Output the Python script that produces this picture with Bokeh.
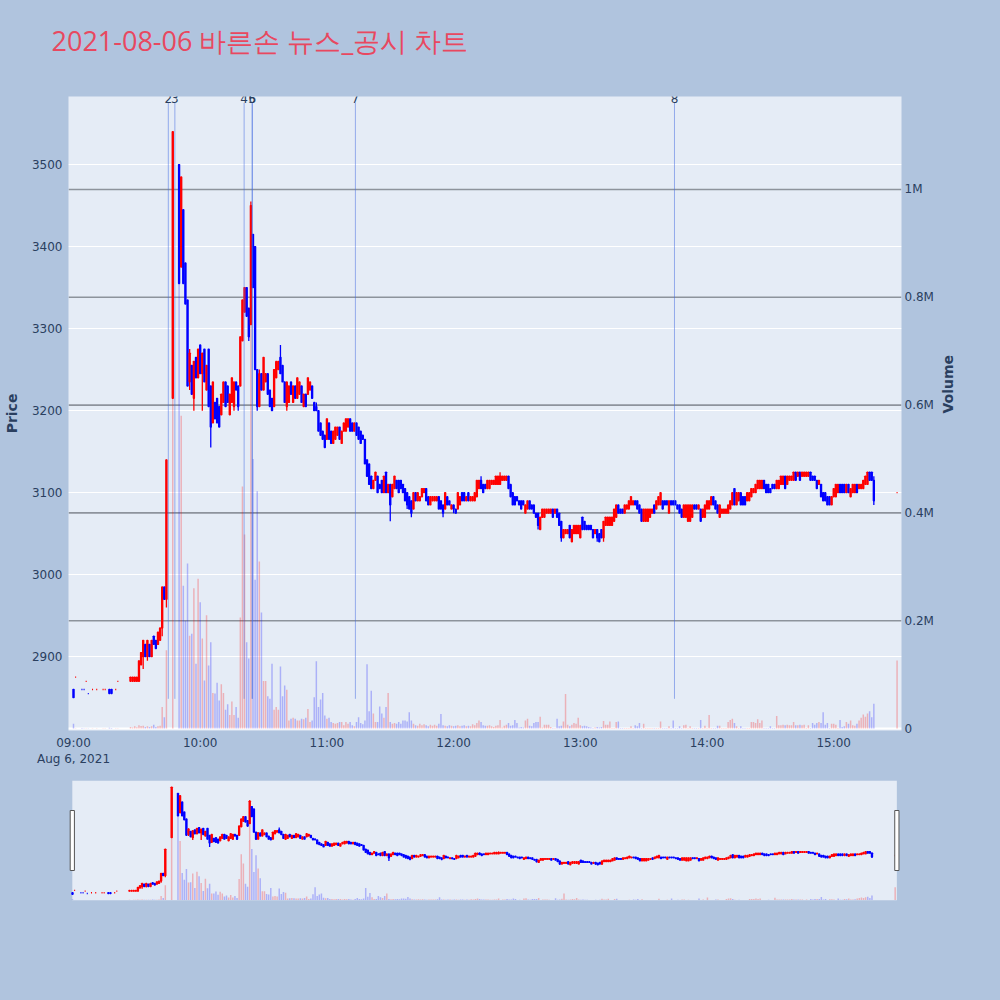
import math
from bokeh.plotting import figure
from bokeh.models import ColumnDataSource, Range1d, LinearAxis, FixedTicker, Label, Span, Title
from bokeh.layouts import column
from bokeh.embed import file_html
from bokeh.resources import INLINE

# ---------------- data (minutes after 09:00) ----------------
minute = ([0, 1, 4, 5, 6, 7, 9, 11, 14, 15, 17, 18, 20, 21]
          + list(range(27, 45)) + [47] + list(range(50, 380)) + [390])

opens = [
    2860, 2875, 2860, 2860, 2870, 2855, 2860, 2860, 2860, 2860, 2860, 2860, 2860, 2870,
    2870, 2870, 2870, 2870, 2870, 2890, 2900, 2915, 2900, 2915, 2900, 2925, 2920, 2915, 2920, 2935, 2985, 2970,
    3215,
    3500, 3375, 3445, 3380, 3335, 3235, 3255, 3215, 3265, 3240,
    3280, 3245, 3275, 3225, 3275, 3230, 3185, 3210, 3215, 3205,
    3195, 3210, 3235, 3230, 3195, 3210, 3205, 3235, 3230, 3230,
    3285, 3320, 3350, 3325, 3305, 3415, 3400, 3250, 3205, 3245,
    3225, 3235, 3245, 3225, 3215, 3205, 3240, 3250, 3265, 3255,
    3235, 3205, 3210, 3235, 3210, 3230, 3215, 3220, 3230, 3205,
    3220, 3220, 3225, 3230, 3210, 3205, 3200, 3185, 3175, 3170,
    3165, 3185, 3175, 3160, 3165, 3170, 3180, 3160, 3175, 3175,
    3180, 3190, 3185, 3175, 3185, 3180, 3175, 3170, 3165, 3140,
    3135, 3120, 3105, 3115, 3120, 3110, 3115, 3100, 3125, 3100,
    3110, 3095, 3105, 3115, 3115, 3115, 3110, 3105, 3100, 3095,
    3090, 3080, 3100, 3090, 3090, 3095, 3100, 3105, 3095, 3085,
    3090, 3090, 3090, 3095, 3090, 3085, 3080, 3095, 3090, 3080,
    3085, 3080, 3080, 3085, 3100, 3100, 3090, 3100, 3090, 3090,
    3090, 3095, 3105, 3115, 3110, 3110, 3105, 3105, 3110, 3110,
    3110, 3110, 3110, 3115, 3115, 3115, 3120, 3110, 3100, 3095,
    3095, 3090, 3090, 3090, 3075, 3080, 3090, 3085, 3085, 3075,
    3075, 3055, 3070, 3070, 3075, 3075, 3075, 3080, 3075, 3080,
    3075, 3065, 3045, 3050, 3050, 3060, 3040, 3050, 3050, 3050,
    3045, 3070, 3065, 3060, 3060, 3060, 3055, 3050, 3055, 3050,
    3055, 3045, 3060, 3060, 3060, 3060, 3065, 3070, 3085, 3080,
    3080, 3075, 3080, 3080, 3085, 3085, 3090, 3090, 3085, 3080,
    3065, 3065, 3065, 3070, 3075, 3085, 3080, 3085, 3085, 3090,
    3090, 3090, 3075, 3090, 3090, 3090, 3085, 3085, 3080, 3070,
    3070, 3065, 3065, 3070, 3085, 3085, 3080, 3080, 3070, 3070,
    3080, 3080, 3085, 3095, 3090, 3085, 3070, 3075, 3075, 3075,
    3075, 3080, 3085, 3105, 3085, 3090, 3100, 3095, 3095, 3090,
    3090, 3095, 3100, 3100, 3105, 3105, 3105, 3115, 3110, 3110,
    3105, 3110, 3110, 3105, 3105, 3110, 3110, 3120, 3110, 3115,
    3115, 3115, 3125, 3120, 3125, 3120, 3120, 3120, 3120, 3125,
    3120, 3120, 3115, 3110, 3110, 3100, 3100, 3095, 3095, 3085,
    3095, 3095, 3100, 3110, 3110, 3110, 3100, 3110, 3095, 3100,
    3100, 3110, 3105, 3105, 3105, 3110, 3110, 3125, 3125, 3115,
    3100,
]

closes = [
    2850, 2875, 2860, 2860, 2870, 2855, 2860, 2860, 2860, 2860, 2855, 2855, 2860, 2870,
    2875, 2875, 2875, 2875, 2895, 2905, 2920, 2900, 2920, 2900, 2920, 2915, 2910, 2930, 2935, 2985, 2970, 3140,
    3540,
    3355, 3485, 3355, 3330, 3230, 3270, 3220, 3260, 3240, 3275,
    3245, 3270, 3235, 3255, 3205, 3180, 3235, 3190, 3185, 3180,
    3220, 3235, 3205, 3210, 3220, 3240, 3235, 3225, 3205, 3290,
    3335, 3350, 3315, 3290, 3450, 3350, 3250, 3205, 3245, 3225,
    3265, 3245, 3220, 3205, 3200, 3250, 3260, 3260, 3245, 3235,
    3210, 3235, 3230, 3220, 3230, 3215, 3240, 3235, 3210, 3220,
    3205, 3240, 3235, 3215, 3200, 3200, 3175, 3170, 3165, 3155,
    3190, 3165, 3160, 3175, 3180, 3180, 3165, 3175, 3185, 3190,
    3190, 3175, 3175, 3185, 3170, 3165, 3160, 3165, 3135, 3120,
    3110, 3105, 3115, 3125, 3100, 3105, 3100, 3120, 3100, 3110,
    3085, 3110, 3120, 3105, 3100, 3105, 3100, 3090, 3085, 3080,
    3075, 3100, 3090, 3100, 3095, 3105, 3105, 3090, 3085, 3095,
    3095, 3095, 3095, 3080, 3080, 3075, 3100, 3085, 3085, 3085,
    3080, 3075, 3100, 3095, 3090, 3090, 3095, 3090, 3095, 3095,
    3100, 3115, 3115, 3105, 3100, 3105, 3115, 3115, 3115, 3115,
    3120, 3120, 3120, 3120, 3120, 3120, 3105, 3095, 3085, 3085,
    3090, 3085, 3080, 3085, 3085, 3090, 3080, 3080, 3075, 3070,
    3060, 3070, 3080, 3080, 3080, 3080, 3080, 3070, 3080, 3070,
    3060, 3045, 3055, 3055, 3055, 3045, 3055, 3060, 3060, 3060,
    3060, 3055, 3055, 3055, 3055, 3055, 3045, 3055, 3045, 3040,
    3045, 3065, 3070, 3070, 3070, 3070, 3080, 3085, 3075, 3075,
    3075, 3085, 3085, 3090, 3095, 3090, 3085, 3080, 3075, 3065,
    3080, 3080, 3080, 3080, 3080, 3075, 3090, 3095, 3100, 3080,
    3085, 3085, 3090, 3085, 3085, 3085, 3080, 3075, 3070, 3085,
    3085, 3085, 3085, 3085, 3080, 3080, 3085, 3065, 3080, 3085,
    3090, 3090, 3095, 3085, 3080, 3075, 3085, 3080, 3080, 3080,
    3085, 3090, 3100, 3085, 3100, 3100, 3085, 3085, 3085, 3100,
    3100, 3105, 3105, 3110, 3115, 3115, 3115, 3105, 3100, 3100,
    3100, 3105, 3105, 3115, 3115, 3120, 3120, 3105, 3120, 3120,
    3120, 3125, 3115, 3125, 3115, 3125, 3125, 3125, 3125, 3115,
    3115, 3115, 3105, 3115, 3095, 3090, 3090, 3085, 3085, 3095,
    3105, 3110, 3110, 3100, 3100, 3100, 3110, 3100, 3105, 3110,
    3110, 3100, 3110, 3110, 3115, 3120, 3125, 3115, 3115, 3090,
    3100,
]

wick_high = {47: 3540, 55: 3275, 84: 3455, 88: 3250, 98: 3280, 115: 3210,
             193: 3120, 202: 3125, 379: 3120}
wick_low = {33: 2885, 35: 2895, 42: 2925, 44: 2960, 55: 3225, 57: 3200, 61: 3200,
            65: 3155, 76: 3200, 78: 3200, 83: 3285, 87: 3200, 101: 3200, 150: 3065,
            158: 3080, 160: 3070, 175: 3070, 180: 3075, 220: 3055, 231: 3040,
            248: 3040, 251: 3040, 379: 3085}

volumes = [
    9000, 600, 900, 400, 500, 700, 300, 400, 600, 400, 1500, 1000, 400, 600,
    3000, 2000, 4000, 2500, 6000, 4500, 5000, 3000, 4000, 3000, 4000, 7000, 3000, 4000, 5000, 40000, 21000, 145000,
    1000000,
    850000, 580000, 265000, 200000, 306000, 172000, 176000, 260000, 120000, 278000,
    234000, 167000, 89000, 210000, 117000, 160000, 66000, 65000, 85000, 52000,
    82000, 66000, 35000, 45000, 25000, 50000, 25000, 40000, 20000, 206000,
    449000, 360000, 160000, 130000, 800000, 500000, 276000, 440000, 310000, 215000,
    88000, 88000, 60000, 55000, 120000, 35000, 40000, 35000, 115000, 60000,
    80000, 72000, 15000, 18000, 20000, 18000, 15000, 15000, 18000, 17000,
    20000, 36000, 12000, 15000, 58000, 125000, 40000, 54000, 66000, 24000,
    18000, 20000, 12000, 10000, 9000, 10000, 12000, 12000, 6000, 12000,
    9000, 12000, 6000, 4000, 12000, 21000, 10000, 8000, 15000, 119000,
    32000, 70000, 28000, 12000, 12000, 41000, 28000, 20000, 40000, 66000,
    12000, 9000, 10000, 9000, 12000, 9000, 15000, 15000, 13000, 30000,
    15000, 9000, 6000, 5000, 9000, 6000, 8000, 6000, 4000, 7000,
    5000, 7000, 5000, 9000, 27000, 6000, 5000, 4000, 6000, 5000,
    4000, 5000, 6000, 4000, 5000, 6000, 4000, 5000, 4000, 8000,
    6000, 10000, 15000, 12000, 6000, 5000, 5000, 6000, 4000, 3000,
    5000, 6000, 16000, 2000, 5000, 7000, 10000, 5000, 6000, 16000,
    10000, 2000, 3000, 2000, 15000, 18000, 5000, 4000, 10000, 12000,
    12000, 22000, 2000, 7000, 7000, 7000, 3000, 1000, 1000, 18000,
    4000, 5000, 13000, 64000, 7000, 4000, 7000, 10000, 9000, 20000,
    6000, 4000, 5000, 4000, 3000, 2000, 1000, 2000, 3000, 2000,
    3000, 14000, 7000, 7000, 13000, 1000, 1000, 12000, 13000, 1000,
    1000, 1000, 1000, 1000, 4000, 1000, 6000, 4000, 10000, 1000,
    9000, 1000, 1000, 1000, 1000, 1000, 1000, 1000, 13000, 1000,
    1000, 1000, 4000, 1000, 15000, 1000, 1000, 4000, 1000, 6000,
    7000, 1000, 4000, 1000, 1000, 1000, 1000, 16000, 1000, 5000,
    1000, 25000, 1000, 1000, 1000, 5000, 5000, 1000, 1000, 1000,
    12000, 16000, 18000, 10000, 4000, 1000, 4000, 1000, 1000, 1000,
    1000, 12000, 12000, 10000, 17000, 10000, 15000, 1000, 1000, 1000,
    4000, 1000, 1000, 23000, 6000, 6000, 7000, 6000, 7000, 6000,
    6000, 12000, 6000, 6000, 7000, 6000, 7000, 1000, 6000, 1000,
    10000, 7000, 10000, 12000, 10000, 30000, 7000, 10000, 1000, 9000,
    9000, 7000, 1000, 16000, 3000, 4000, 12000, 9000, 15000, 6000,
    5000, 9000, 15000, 20000, 26000, 22000, 28000, 32000, 21000, 46000,
    126000,
]

news_minute = [44.9, 48.0, 80.8, 84.6, 84.7, 133.5, 284.6]
news_label = ["2", "3", "4", "5", "6", "7", "8"]

hour_ticks = [0, 60, 120, 180, 240, 300, 360]
hour_labels = ["09:00\nAug 6, 2021", "10:00", "11:00", "12:00", "13:00", "14:00", "15:00"]
price_ticks = [2900, 3000, 3100, 3200, 3300, 3400, 3500]
vol_ticks = [0, 200000, 400000, 600000, 800000, 1000000]
vol_labels = ["0", "0.2M", "0.4M", "0.6M", "0.8M", "1M"]

TITLE = "2021-08-06 바른손 뉴스_공시 차트"

# ---------------- styles ----------------
BG = "#B0C4DE"
PLOT_BG = "#E5ECF6"
INK = "#2a3f5f"
UP = "#FF0000"
DOWN = "#0000FF"

assert len(minute) == len(opens) == len(closes) == len(volumes)

# derived columns
colors, highs, lows, btop, bbot = [], [], [], [], []
prev_c, prev_up = None, True
for m, o, c in zip(minute, opens, closes):
    if c > o:
        up = True
    elif c < o:
        up = False
    else:
        if prev_c is None:
            up = True
        elif c > prev_c:
            up = True
        elif c < prev_c:
            up = False
        else:
            up = prev_up
    prev_c, prev_up = c, up
    colors.append(UP if up else DOWN)
    highs.append(max(o, c, wick_high.get(m, o)))
    lows.append(min(o, c, wick_low.get(m, o)))
    btop.append(max(o, c))
    bbot.append(min(o, c))

src = ColumnDataSource(dict(m=minute, o=opens, c=closes, h=highs, l=lows,
                            top=btop, bot=bbot, v=volumes, color=colors))

X0, X1 = -2.37, 392.1
P0, P1 = 2810, 3583
V0, V1 = -3700, 1172500


def draw_series(fig):
    fig.vbar(x="m", top="v", bottom=0, width=0.7, fill_color="color", fill_alpha=0.25,
             line_color=None, y_range_name="vol", source=src)
    fig.segment(x0="m", y0="l", x1="m", y1="h", line_color="color", line_width=1.3, source=src)
    fig.vbar(x="m", top="top", bottom="bot", width=0.5, fill_color="color",
             line_color="color", line_width=1.3, source=src)


# ---------------- main chart ----------------
p = figure(width=1000, height=770, x_range=Range1d(X0, X1), y_range=Range1d(P0, P1),
           output_backend="svg", toolbar_location=None,
           min_border_left=68, min_border_right=99, min_border_top=96, min_border_bottom=40,
           background_fill_color=PLOT_BG, border_fill_color=BG, outline_line_color=None)
p.extra_y_ranges = {"vol": Range1d(V0, V1), "paper": Range1d(0, 1)}

try:
    p.title = None
except Exception:
    p.title.text = ""

# blank spacer panel (a space in the background colour) between the frame and the title
p.add_layout(Title(text=" ", text_color=BG, text_font_size="20px", standoff=14), "above")
p.add_layout(Title(text=TITLE, align="left", offset=-17, standoff=0,
                   text_font="Open Sans", text_font_size="27px",
                   text_font_style="normal", text_color="#E84860"), "above")

p.xgrid.visible = False
p.ygrid.grid_line_color = "white"
p.ygrid.grid_line_width = 1

for v in vol_ticks[1:]:
    p.add_layout(Span(location=v, dimension="width", y_range_name="vol",
                      line_color="#8d939c", line_width=1.6, level="underlay"))
p.add_layout(Span(location=0, dimension="width", y_range_name="vol",
                  line_color="white", line_width=2, level="underlay"))

xa = p.xaxis[0]
xa.ticker = FixedTicker(ticks=hour_ticks)
xa.major_label_overrides = {t: s for t, s in zip(hour_ticks, hour_labels)}
xa.major_label_standoff = 5

ya = p.yaxis[0]
ya.ticker = FixedTicker(ticks=price_ticks)
ya.axis_label = "Price"
ya.major_label_standoff = 6
ya.axis_label_standoff = 9

va = LinearAxis(y_range_name="vol", ticker=FixedTicker(ticks=vol_ticks),
                major_label_overrides={t: s for t, s in zip(vol_ticks, vol_labels)},
                axis_label="Volume")
va.major_label_standoff = 3
va.axis_label_standoff = 11
va.axis_label_orientation = math.pi / 2
p.add_layout(va, "right")

for ax in (xa, ya, va):
    ax.axis_line_color = None
    ax.major_tick_line_color = None
    ax.minor_tick_line_color = None
    ax.major_tick_out = 0
    ax.major_tick_in = 0
    ax.minor_tick_out = 0
    ax.minor_tick_in = 0
    ax.major_label_text_font = "DejaVu Sans"
    ax.major_label_text_font_size = "12px"
    ax.major_label_text_color = INK
for ax in (ya, va):
    ax.axis_label_text_font = "DejaVu Sans"
    ax.axis_label_text_font_size = "14px"
    ax.axis_label_text_font_style = "bold"
    ax.axis_label_text_color = INK

draw_series(p)

p.segment(x0=news_minute, y0=0.05, x1=news_minute, y1=0.99, y_range_name="paper",
          line_color="royalblue", line_alpha=0.5, line_width=1)
for nm, lab in zip(news_minute, news_label):
    p.add_layout(Label(x=nm, y=0.9975, y_range_name="paper", text=lab, text_align="center",
                       text_baseline="middle", text_font="DejaVu Sans", text_font_size="12px",
                       text_color=INK))

# ---------------- range slider ----------------
SX0, SX1 = -1.9, 393.0
s = figure(width=1000, height=230, x_range=Range1d(SX0, SX1), y_range=Range1d(P0, P1),
           output_backend="svg", toolbar_location=None, x_axis_type=None, y_axis_type=None,
           min_border_left=68, min_border_right=99, min_border_top=10, min_border_bottom=100,
           background_fill_color=BG, border_fill_color=BG, outline_line_color=None)
s.extra_y_ranges = {"vol": Range1d(V0, V1), "frac": Range1d(0, 1)}
s.xgrid.visible = False
s.ygrid.visible = False
lo, hi = minute[0] - 0.1, minute[-1] + 0.8
s.quad(left=[lo], right=[hi], bottom=[0], top=[1], y_range_name="frac",
       fill_color=PLOT_BG, line_color=None)
draw_series(s)
s.quad(left=[lo - 1.0, hi - 1.0], right=[lo + 1.0, hi + 1.0], bottom=[0.25, 0.25],
       top=[0.75, 0.75], y_range_name="frac", fill_color="white", line_color="#555555",
       line_width=1)

layout = column(p, s)
html = file_html(layout, INLINE, title="chart")
html = html.replace("</head>", "<style>html,body{margin:0;padding:0;background:#B0C4DE;}</style></head>", 1)
open("out.html", "w").write(html)
